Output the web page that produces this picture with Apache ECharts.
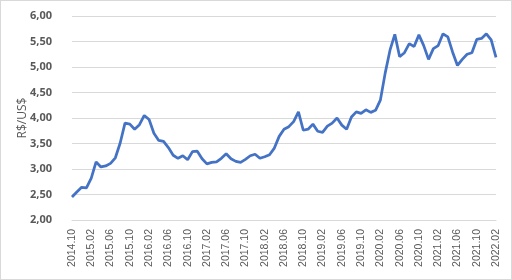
<!DOCTYPE html>
<html><head><meta charset="utf-8">
<script src="https://cdn.jsdelivr.net/npm/echarts@6/dist/echarts.min.js"></script>
<style>html,body{margin:0;padding:0;background:#fff}#c{width:512px;height:280px;box-sizing:border-box;border:1px solid #d9d9d9}</style>
</head><body><div id="c"></div>
<script>
const startYear = 2014, startMonth = 10, monthCount = 89;
const categories = [];
for (let i = 0; i < monthCount; i++) {
  const m = (startMonth - 1 + i) % 12 + 1;
  const y = startYear + Math.floor((startMonth - 1 + i) / 12);
  categories.push(y + '.' + (m < 10 ? '0' + m : m));
}
const rate = [
  2.45, 2.55, 2.64,
  2.63, 2.82, 3.14, 3.04, 3.06, 3.11, 3.22, 3.51, 3.90, 3.88, 3.78, 3.87,
  4.05, 3.97, 3.70, 3.56, 3.54, 3.42, 3.27, 3.21, 3.26, 3.18, 3.34, 3.35,
  3.20, 3.10, 3.13, 3.14, 3.21, 3.30, 3.20, 3.15, 3.13, 3.19, 3.26, 3.29,
  3.21, 3.24, 3.28, 3.41, 3.64, 3.78, 3.83, 3.93, 4.12, 3.76, 3.78, 3.88,
  3.74, 3.72, 3.84, 3.90, 4.00, 3.86, 3.78, 4.02, 4.12, 4.09, 4.16, 4.11,
  4.15, 4.35, 4.88, 5.33, 5.64, 5.20, 5.28, 5.46, 5.40, 5.63, 5.42, 5.15,
  5.36, 5.42, 5.65, 5.59, 5.29, 5.03, 5.15, 5.25, 5.28, 5.54, 5.56, 5.65,
  5.53, 5.19
];
const yTitle = 'R$/US$';
const chart = echarts.init(document.getElementById('c'));
chart.setOption({
  animation: false,
  grid: { left: 71, right: 15, top: 15, bottom: 59 },
  xAxis: {
    type: 'category', data: categories, boundaryGap: false,
    axisLine: { lineStyle: { color: '#d9d9d9', width: 1 } },
    axisTick: { show: false },
    axisLabel: { interval: 3, rotate: 90, margin: 9, color: '#595959', fontSize: 10.5, fontFamily: 'Liberation Sans' }
  },
  yAxis: {
    type: 'value', min: 2, max: 6, interval: 0.5,
    name: yTitle, nameLocation: 'middle', nameGap: 43, nameRotate: 90, nameMoveOverlap: false,
    nameTextStyle: { color: '#595959', fontSize: 12, fontFamily: 'Open Sans' },
    axisLine: { show: false }, axisTick: { show: false },
    splitLine: { lineStyle: { color: '#d9d9d9', width: 1 } },
    axisLabel: { margin: 20, color: '#595959', fontSize: 11, fontWeight: 'bold', fontFamily: 'Open Sans',
      formatter: v => v.toFixed(2).replace('.', ',') }
  },
  series: [{
    type: 'line', data: rate, symbol: 'none', smooth: false,
    lineStyle: { color: '#4472C4', width: 2.75 }
  }]
});
</script></body></html>
